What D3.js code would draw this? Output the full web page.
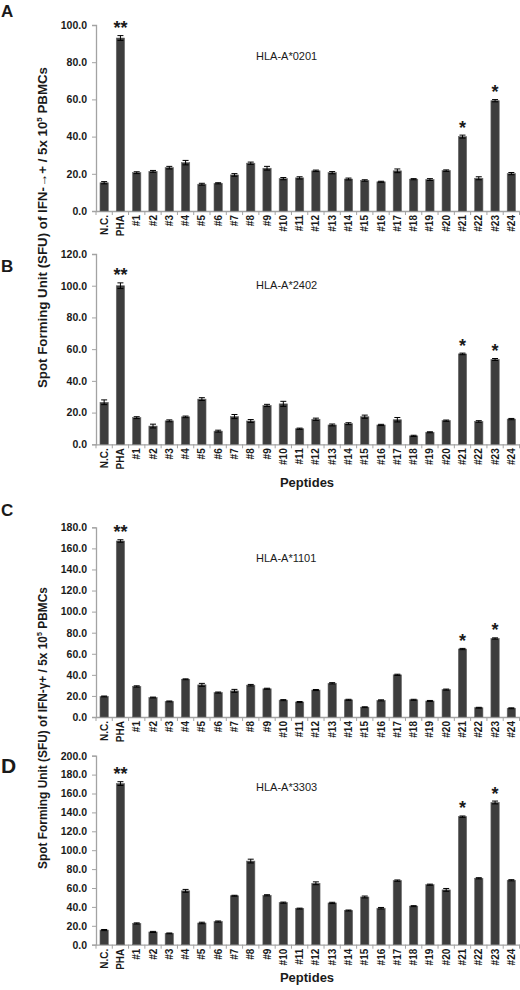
<!DOCTYPE html>
<html><head><meta charset="utf-8">
<script src="https://cdn.jsdelivr.net/npm/d3@7"></script>
<style>
body{margin:0;background:#fff;}
svg text{font-family:"Liberation Sans",Arial,sans-serif;fill:#1a1a1a;}
</style></head>
<body><svg id="c" width="520" height="990"></svg>
<script>
const categories = ["N.C.","PHA","#1","#2","#3","#4","#5","#6","#7","#8","#9","#10","#11","#12","#13","#14","#15","#16","#17","#18","#19","#20","#21","#22","#23","#24"];

const valuesA = [15.2,93.0,20.6,21.3,23.3,26.0,14.4,14.9,19.4,25.7,23.0,17.4,17.8,21.6,20.6,17.2,16.4,15.7,21.6,17.1,16.9,21.7,40.0,17.6,59.3,20.1];
const errA    = [0.6,1.3,0.5,0.5,0.7,1.2,0.5,0.3,0.7,0.6,1.0,0.6,0.6,0.4,0.6,0.5,0.4,0.3,1.0,0.3,0.5,0.4,0.8,0.8,0.6,0.6];

const valuesB = [26.5,100.0,16.8,11.5,14.8,17.3,28.5,8.3,17.5,14.7,24.5,25.5,9.8,15.8,12.2,13.0,17.4,12.2,15.5,5.3,7.6,14.9,57.0,14.4,53.5,15.9];
const errB    = [1.5,1.8,0.6,1.2,0.6,0.5,0.9,0.6,1.3,0.9,0.7,1.6,0.4,0.7,0.6,0.6,1.0,0.4,1.4,0.4,0.3,0.4,0.5,0.5,0.6,0.4];

const valuesC = [19.5,167.0,29.0,18.5,14.8,35.8,30.5,23.2,24.8,30.2,26.8,16.0,14.2,25.6,32.0,16.3,9.3,15.8,40.0,16.3,15.2,26.0,64.5,8.8,74.5,8.3];
const errC    = [0.4,1.2,0.6,0.4,0.4,0.4,1.4,0.5,1.4,0.7,0.5,0.5,0.5,0.5,0.6,0.5,0.4,0.5,0.6,0.5,0.5,0.5,0.6,0.4,0.6,0.4];

const valuesD = [15.5,170.5,22.5,13.5,12.0,57.0,23.0,24.5,51.8,88.5,52.3,44.5,38.2,65.0,44.2,36.2,50.5,38.6,67.8,40.8,63.5,58.0,135.5,70.3,150.5,68.2];
const errD    = [0.6,2.0,0.6,0.6,0.4,1.5,0.8,0.6,0.5,2.0,0.6,0.6,0.5,1.5,0.7,0.5,1.0,0.8,0.7,0.5,0.6,1.5,0.7,0.6,1.5,0.6];

const yMaxes = [100,120,180,200];
const panelLetters = ["A","B","C","D"];
const hlaLabels = ["HLA-A*0201","HLA-A*2402","HLA-A*1101","HLA-A*3303"];
const significance = {"PHA":"**","#21":"*","#23":"*"};

const svg = d3.select("#c");
const layout = [
  {top:25, bottom:211, letterY:17, letterSize:17, hlaY:60},
  {top:254, bottom:444.3, letterY:272, letterSize:17, hlaY:289},
  {top:527.3, bottom:717, letterY:516, letterSize:17, hlaY:562},
  {top:755.7, bottom:944.7, letterY:773, letterSize:21, hlaY:791}
];
const data = [[valuesA,errA],[valuesB,errB],[valuesC,errC],[valuesD,errD]];
const axisX = 96, right = 519.5;
const grey = "#a3a3a3";

const x = d3.scaleBand().domain(categories).range([axisX, right]).paddingInner(0.49).paddingOuter(0.245);

data.forEach(([vals, errs], i) => {
  const L = layout[i];
  const y = d3.scaleLinear().domain([0, yMaxes[i]]).range([L.bottom, L.top]);
  const g = svg.append("g");

  // y axis
  const ya = g.append("g").attr("transform", `translate(${axisX},0)`)
    .call(d3.axisLeft(y).tickValues(d3.range(0, yMaxes[i] + 1, 20)).tickFormat(d3.format(".1f")).tickSize(4).tickPadding(5));
  ya.select(".domain").attr("stroke", grey).attr("stroke-width", 1.3);
  ya.selectAll(".tick line").attr("stroke", grey);
  ya.selectAll(".tick text").attr("font-size", 10.5).attr("font-weight", "bold").attr("fill", "#1a1a1a")
    .style("font-family", '"Liberation Sans",Arial,sans-serif');

  // x axis
  const xa = g.append("g").attr("transform", `translate(0,${L.bottom})`)
    .call(d3.axisBottom(x).tickSize(0).tickPadding(4));
  xa.select(".domain").attr("stroke", grey).attr("stroke-width", 1.3);
  xa.selectAll(".tick text").attr("font-size", 10).attr("font-weight", "bold").attr("fill", "#1a1a1a")
    .style("font-family", '"Liberation Sans",Arial,sans-serif')
    .attr("transform", "rotate(-90)").attr("text-anchor", "end").attr("dy", "0.35em").attr("y", 0).attr("x", -4);
  // boundary ticks
  const step = x.step();
  g.append("g").selectAll("line").data(d3.range(categories.length + 1)).join("line")
    .attr("x1", k => axisX + k * step).attr("x2", k => axisX + k * step)
    .attr("y1", L.bottom).attr("y2", L.bottom + 4)
    .attr("stroke", grey);

  // bars
  g.append("g").selectAll("rect").data(categories).join("rect")
    .attr("x", (c) => x(c)).attr("width", x.bandwidth())
    .attr("y", (c, k) => y(vals[k])).attr("height", (c, k) => L.bottom - y(vals[k]))
    .attr("fill", "#3d3d3d").attr("stroke", "#6a6a6a").attr("stroke-width", 0.6);

  // error bars
  const eg = g.append("g").attr("stroke", "#000").attr("stroke-width", 1);
  categories.forEach((c, k) => {
    const cx = x(c) + x.bandwidth() / 2;
    eg.append("line").attr("x1", cx).attr("x2", cx).attr("y1", y(vals[k] - errs[k])).attr("y2", y(vals[k] + errs[k]));
    eg.append("line").attr("x1", cx - 3).attr("x2", cx + 3).attr("y1", y(vals[k] + errs[k])).attr("y2", y(vals[k] + errs[k]));
    eg.append("line").attr("x1", cx - 3).attr("x2", cx + 3).attr("y1", y(vals[k] - errs[k])).attr("y2", y(vals[k] - errs[k]));
  });

  // significance stars
  categories.forEach((c, k) => {
    if (significance[c]) {
      g.append("text").attr("x", x(c) + x.bandwidth() / 2).attr("y", y(vals[k] + errs[k]) - 1.5)
        .attr("text-anchor", "middle").attr("font-size", 18).attr("font-weight", "bold").text(significance[c]);
    }
  });

  // panel letter
  svg.append("text").attr("x", 1).attr("y", L.letterY).attr("font-size", L.letterSize).attr("font-weight", "bold").text(panelLetters[i]);
  // HLA label
  svg.append("text").attr("x", 256).attr("y", L.hlaY).attr("font-size", 11).text(hlaLabels[i]);
});

// y titles
function yTitle(cx, cy, gammaText, size) {
  const t = svg.append("text").attr("transform", `translate(${cx},${cy}) rotate(-90)`)
    .attr("text-anchor", "middle").attr("font-size", size).attr("font-weight", "bold");
  t.append("tspan").text(`Spot Forming Unit (SFU) of IFN-${gammaText} /  5x 10`);
  t.append("tspan").attr("font-size", size * 0.6).attr("dy", -size * 0.4).text("5");
  t.append("tspan").attr("dy", size * 0.4).text(" PBMCs");
}
yTitle(47, 227.5, "\u2192+", 13.3);
yTitle(47, 728, "\u03b3+", 11.9);

// x titles
svg.append("text").attr("x", 307).attr("y", 487).attr("text-anchor", "middle").attr("font-size", 13).attr("font-weight", "bold").text("Peptides");
svg.append("text").attr("x", 307).attr("y", 982).attr("text-anchor", "middle").attr("font-size", 13).attr("font-weight", "bold").text("Peptides");
</script></body></html>
